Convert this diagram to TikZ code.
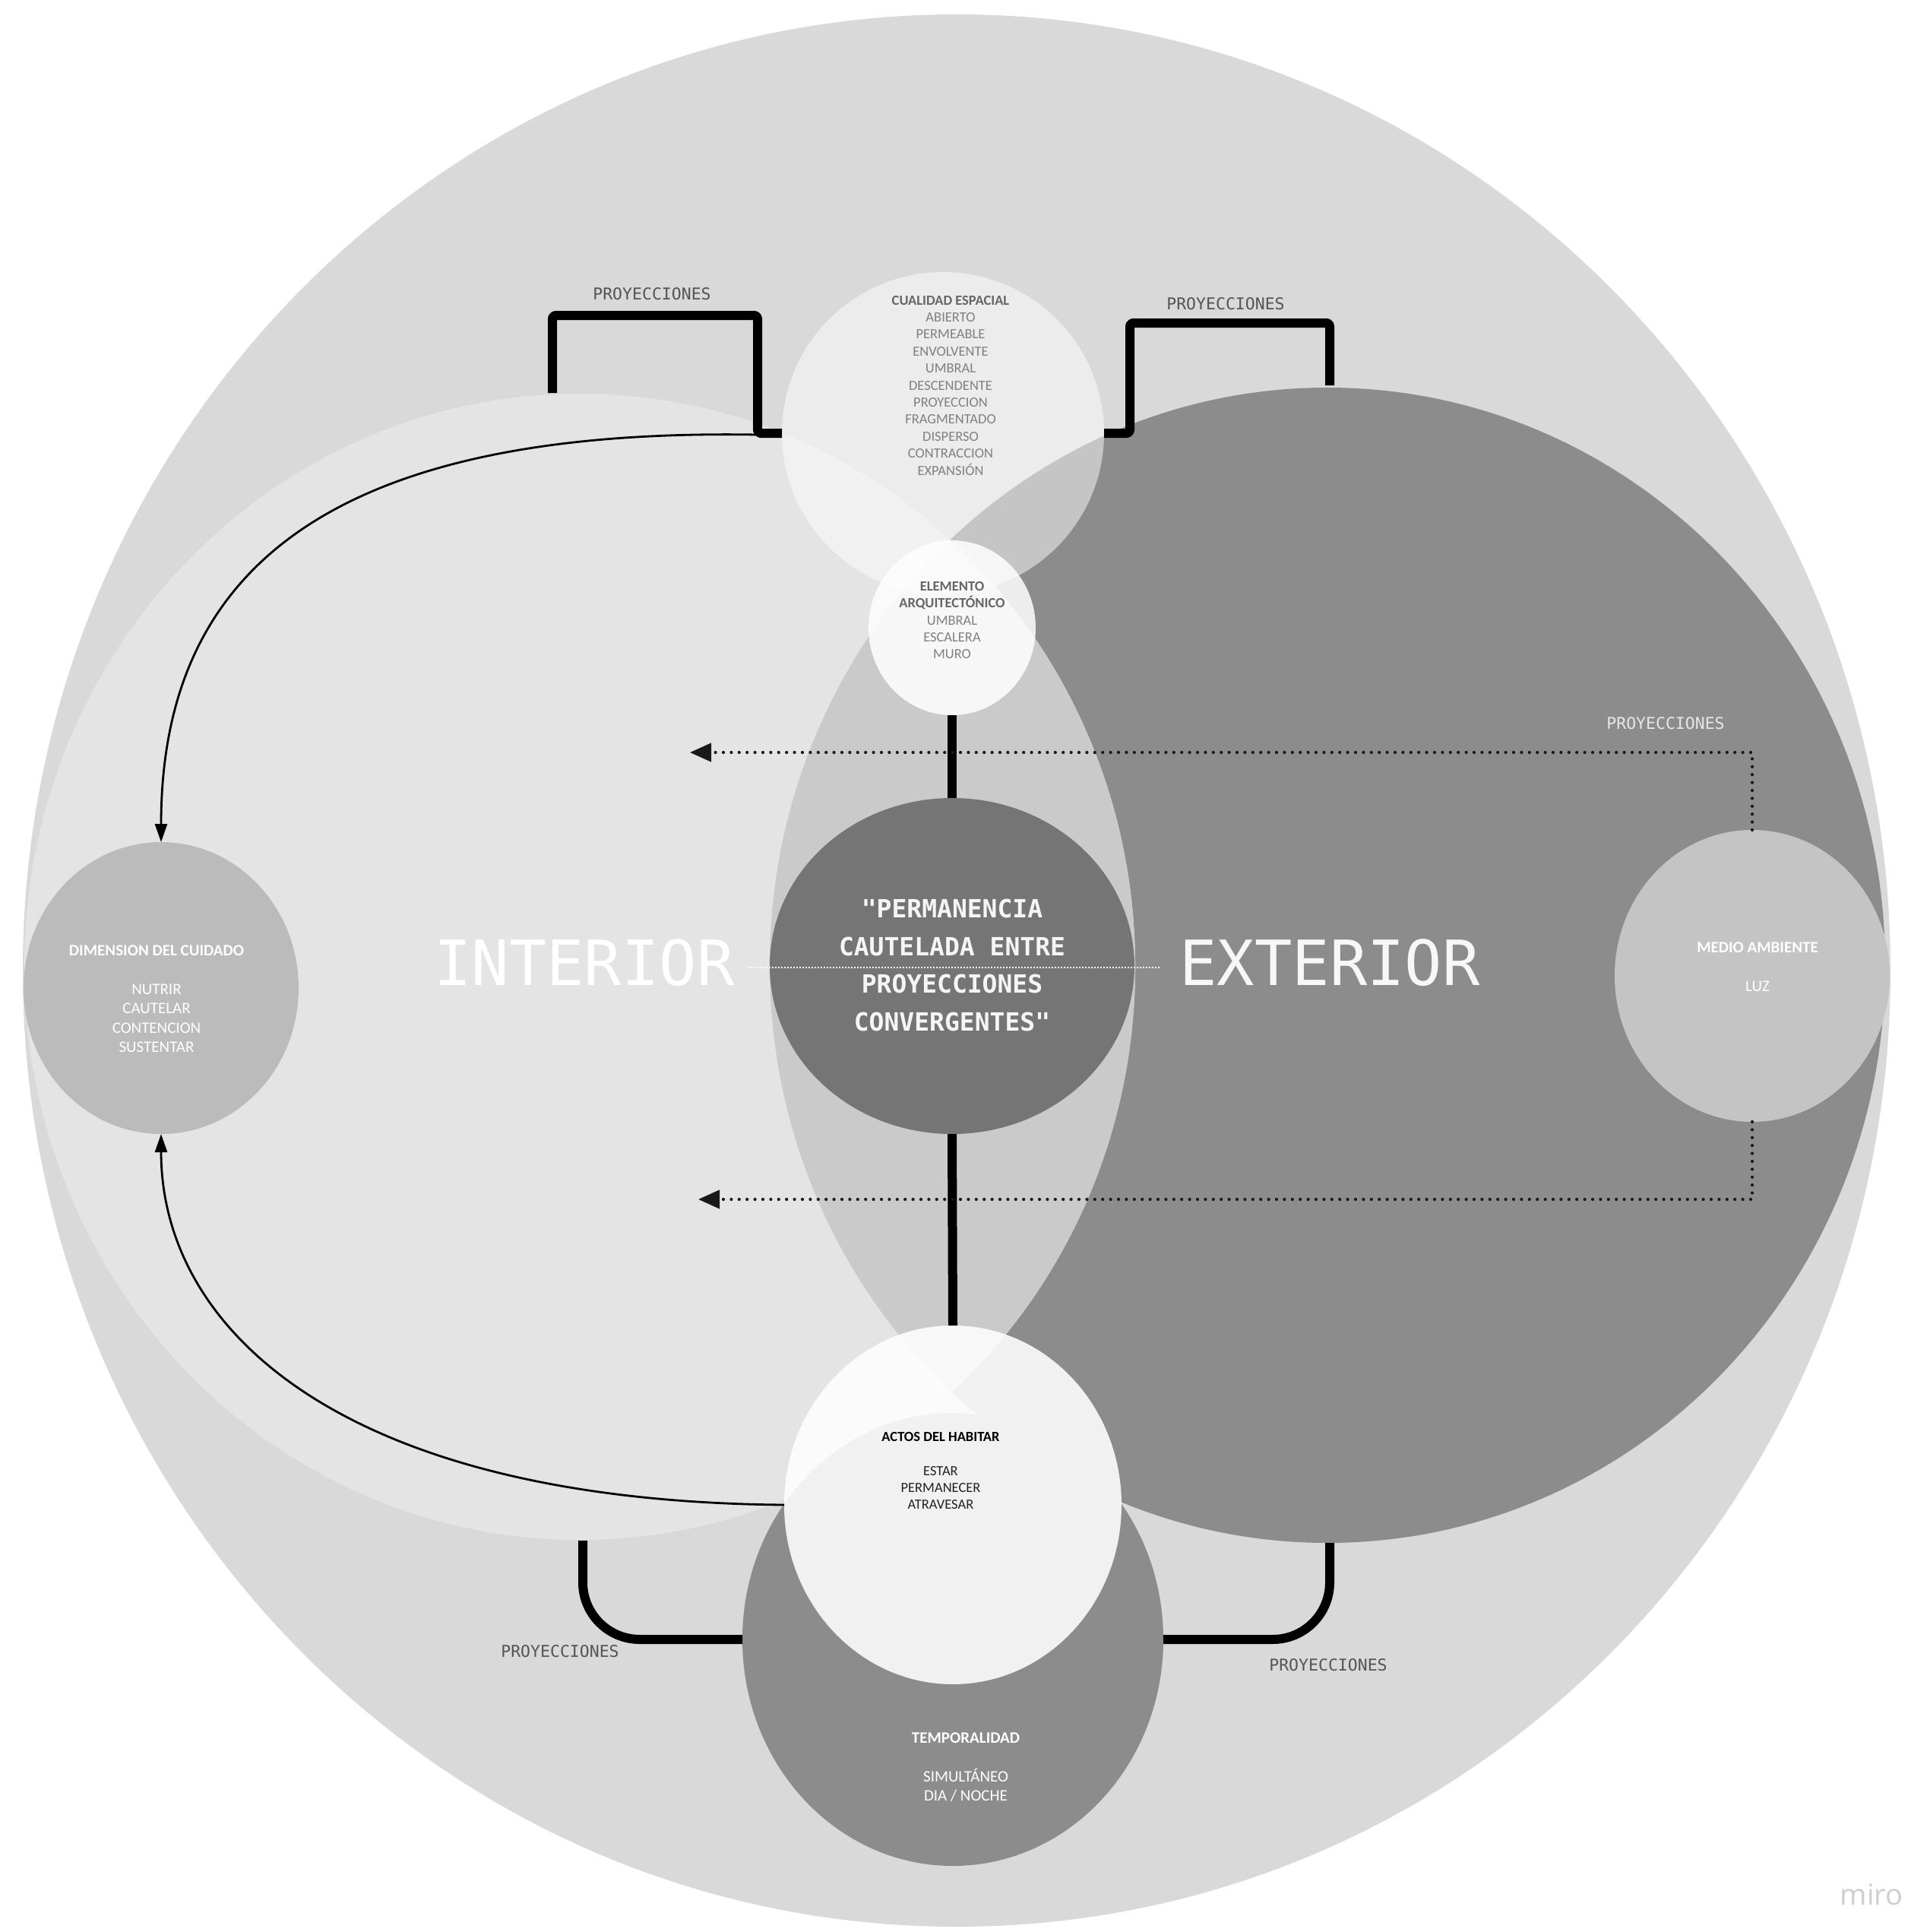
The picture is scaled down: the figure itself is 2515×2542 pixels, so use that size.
\documentclass[tikz,border=0pt]{standalone}
\usepackage{fontspec}
\setmainfont{Carlito}
\newfontfamily\monofont{DejaVu Sans Mono}
\newfontfamily\uifont{Open Sans}
\usetikzlibrary{shapes.geometric,arrows.meta}
\definecolor{outerc}{HTML}{D9D9D9}
\definecolor{intc}{HTML}{E4E4E4}
\definecolor{extc}{HTML}{8C8C8C}
\definecolor{lensc}{HTML}{CACACA}
\definecolor{centc}{HTML}{757575}
\definecolor{dimc}{HTML}{BBBBBB}
\definecolor{medc}{HTML}{C4C4C4}
\definecolor{tempc}{HTML}{8C8C8C}
\definecolor{titgray}{HTML}{666666}
\definecolor{itemgray}{HTML}{808080}
\definecolor{proygray}{HTML}{555555}
\definecolor{proylight}{HTML}{E6E6E6}
\definecolor{darktext}{HTML}{222222}
\definecolor{miroc}{HTML}{CDCDD4}
\begin{document}
\begin{tikzpicture}[x=1pt,y=-1pt,
  blob/.style={ellipse, inner sep=0pt, outer sep=0pt, draw=none},
  bracketline/.style={line width=12pt, black, line join=round, rounded corners=4pt},
  curvebracket/.style={line width=12pt, black, rounded corners=75pt},
  thickline/.style={line width=12pt, black},
  dotline/.style={line width=4.2pt, black!90, dash pattern=on 0pt off 10.4pt, line cap=round, -{Triangle[length=28pt,width=24pt]}},
  thinarrow/.style={line width=2.8pt, black, -{Triangle[length=24pt,width=16pt]}},
  centerline/.style={line width=1.6pt, white, dash pattern=on 2pt off 2pt},
  proy/.style={font=\monofont\fontsize{21.5}{26}\selectfont, text=proygray},
  smalltxt/.style={align=center, font=\fontsize{18.5}{22.4}\selectfont},
  bigtxt/.style={align=center, font=\fontsize{21}{25.5}\selectfont},
  sidetxt/.style={font=\monofont\fontsize{82}{90}\selectfont}
]
\useasboundingbox (0,0) rectangle (2515,2542);
\fill[white] (0,0) rectangle (2515,2542);

% large fields
\node[blob, fill=outerc, minimum width=2458pt, minimum height=2516pt] (outer) at (1259,1277) {};
\node[blob, fill=extc, minimum width=1468pt, minimum height=1520pt] (ext) at (1747,1270) {};
\node[blob, fill=intc, minimum width=1462pt, minimum height=1508pt] (int) at (763,1272) {};
\begin{scope}
  \clip (1747,1270) ellipse [x radius=734pt, y radius=760pt];
  \fill[lensc] (763,1272) ellipse [x radius=731pt, y radius=754pt];
\end{scope}

% circles
\node[blob, fill=centc, minimum width=480pt, minimum height=442pt] (centro) at (1253,1271) {};
\node[blob, fill=white, fill opacity=0.5, minimum width=424pt, minimum height=424pt] (cual) at (1241,570) {};
\node[blob, fill=white, fill opacity=0.85, minimum width=220pt, minimum height=230pt] (elem) at (1253,826) {};
\node[blob, fill=tempc, minimum width=554pt, minimum height=596pt] (temp) at (1254,2157) {};
\node[blob, fill=white, fill opacity=0.88, minimum width=444pt, minimum height=472pt] (actos) at (1254,1980) {};
\node[blob, fill=dimc, minimum width=362pt, minimum height=384pt] (dim) at (212,1300) {};
\node[blob, fill=medc, minimum width=362pt, minimum height=384pt] (medio) at (2306,1284) {};

% coordinates for free ends
\coordinate (tl1) at (727,517);
\coordinate (tl2) at (997,415);
\coordinate (tlc) at (997,572);
\coordinate (tr2) at (1487,425);
\coordinate (tr3) at (1750,507);
\coordinate (bl1) at (767,2027);
\coordinate (br1) at (1750,2030);
\coordinate (arrTop) at (908,990);
\coordinate (arrBot) at (919,1578);
\coordinate (cl1) at (984,1273);
\coordinate (cl2) at (1527,1273);

% connectors
\draw[thickline] (elem.south) -- (centro.north);
\draw[thickline] (centro.south) -- (actos.north);
\draw[bracketline] (tl1) |- (tl2) |- (cual.west);
\draw[bracketline] (cual.east) -| (tr2) -| (tr3);
\draw[curvebracket] (bl1) |- (temp.west);
\draw[curvebracket] (br1) |- (temp.east);
\draw[dotline] (medio.north) |- (arrTop);
\draw[dotline] (medio.south) |- (arrBot);
\draw[thinarrow] (tlc) .. controls (420,562) and (212,760) .. (dim.north);
\draw[thinarrow] (actos.west) .. controls (450,1975) and (212,1750) .. (dim.south);
\draw[centerline] (cl1) -- (cl2);

% labels
\node[proy] (p1) at (858,387) {PROYECCIONES};
\node[proy] (p2) at (1613,400) {PROYECCIONES};
\node[proy, text=proylight] (p3) at (2192,952) {PROYECCIONES};
\node[proy] (p4) at (737,2173) {PROYECCIONES};
\node[proy] (p5) at (1748,2191) {PROYECCIONES};

\node[sidetxt, text=white] (tint) at (769,1267) {INTERIOR};
\node[sidetxt, text=white!97!black] (text) at (1750,1267) {EXTERIOR};

\node[align=center, text=white!96!black, font=\monofont\bfseries\fontsize{33}{49.5}\selectfont] (ctext) at (1253,1270)
  {"PERMANENCIA\\CAUTELADA ENTRE\\PROYECCIONES\\CONVERGENTES"};

\node[smalltxt, text=itemgray] (cualtxt) at (1251,507)
  {\textcolor{titgray}{\bfseries CUALIDAD ESPACIAL}\\ABIERTO\\PERMEABLE\\ENVOLVENTE\\UMBRAL\\DESCENDENTE\\PROYECCION\\FRAGMENTADO\\DISPERSO\\CONTRACCION\\EXPANSIÓN};

\node[smalltxt, text=itemgray] (elemtxt) at (1253,816)
  {\textcolor{titgray}{\bfseries ELEMENTO}\\\textcolor{titgray}{\bfseries ARQUITECTÓNICO}\\UMBRAL\\ESCALERA\\MURO};

\node[bigtxt, text=white] (dimtxt) at (206,1314)
  {\bfseries DIMENSION DEL CUIDADO\\[25.5pt]NUTRIR\\CAUTELAR\\CONTENCION\\SUSTENTAR};

\node[bigtxt, text=white] (medtxt) at (2313,1272)
  {\bfseries MEDIO AMBIENTE\\[25.5pt]LUZ};

\node[smalltxt, text=darktext] (actostxt) at (1238,1935)
  {\textcolor{black}{\bfseries ACTOS DEL HABITAR}\\[22.4pt]ESTAR\\PERMANECER\\ATRAVESAR};

\node[bigtxt, text=white] (temptxt) at (1271,2325)
  {\bfseries TEMPORALIDAD\\[25.5pt]SIMULTÁNEO\\DIA / NOCHE};

\node[font=\uifont\fontsize{38}{40}\selectfont, text=miroc] (miro) at (2463,2493) {miro};
\end{tikzpicture}
\end{document}
